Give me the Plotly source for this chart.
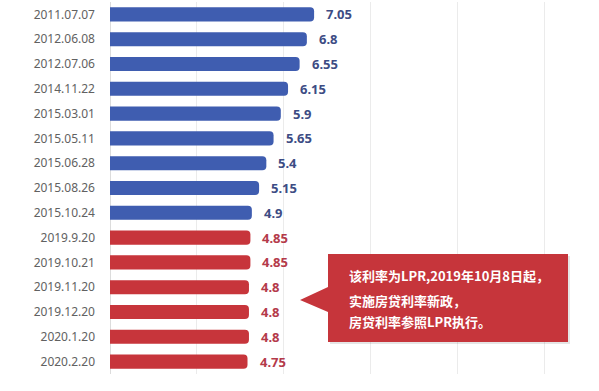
import plotly.graph_objects as go

dates = ["2011.07.07", "2012.06.08", "2012.07.06", "2014.11.22", "2015.03.01",
         "2015.05.11", "2015.06.28", "2015.08.26", "2015.10.24", "2019.9.20",
         "2019.10.21", "2019.11.20", "2019.12.20", "2020.1.20", "2020.2.20"]
rates = [7.05, 6.8, 6.55, 6.15, 5.9, 5.65, 5.4, 5.15, 4.9, 4.85, 4.85, 4.8, 4.8, 4.8, 4.75]
is_lpr = [False] * 9 + [True] * 6
note_lines = ["该利率为LPR,2019年10月8日起，", "实施房贷利率新政，", "房贷利率参照LPR执行。"]

BLUE, RED = "#3f5db0", "#c7353b"
BLUE_TXT, RED_TXT = "#3d4c84", "#b43a4a"

W, H = 599, 391
ML, MR, MT, MB = 110, 0, 2, 17
PW, PH = W - ML - MR, H - MT - MB

def px(x):
    return (x - ML) / PW

def py(y):
    return 1 - (y - MT) / PH

fig = go.Figure()
fig.add_trace(go.Bar(
    y=dates, x=rates, orientation="h",
    marker=dict(color=[RED if f else BLUE for f in is_lpr], line=dict(width=0)),
    width=0.57, hoverinfo="skip",
))

for d, r, f in zip(dates, rates, is_lpr):
    fig.add_annotation(x=r, y=d, xref="x", yref="y", text=f"<b>{r:g}</b>",
                       showarrow=False, xanchor="left", xshift=10,
                       font=dict(size=13, color=RED_TXT if f else BLUE_TXT,
                                 family="Noto Sans, Open Sans, sans-serif"))

# callout box
path = (f"M {px(328)},{py(254)} L {px(568)},{py(254)} L {px(568)},{py(342)} "
        f"L {px(328)},{py(342)} L {px(328)},{py(312)} L {px(300)},{py(300)} "
        f"L {px(328)},{py(287)} Z")
shadow = (f"M {px(330)},{py(256)} L {px(570)},{py(256)} L {px(570)},{py(344)} "
          f"L {px(330)},{py(344)} Z")
fig.add_shape(type="path", path=shadow, xref="paper", yref="paper",
              fillcolor="rgba(0,0,0,0.10)", line=dict(width=0), layer="above")
fig.add_shape(type="path", path=path, xref="paper", yref="paper",
              fillcolor="#c6353b", line=dict(width=0), layer="above")
for line, yy in zip(note_lines, [275.5, 300.5, 321]):
    fig.add_annotation(x=px(347), y=py(yy), xref="paper", yref="paper",
                       text=f"<b>{line}</b>", showarrow=False,
                       xanchor="left", yanchor="middle",
                       font=dict(size=13, color="white",
                                 family="Noto Sans CJK SC, sans-serif"))

fig.update_layout(
    width=W, height=H,
    margin=dict(l=ML, r=MR, t=MT, b=MB),
    paper_bgcolor="white", plot_bgcolor="white",
    showlegend=False,
    barcornerradius=4,
    xaxis=dict(range=[0, PW / 28.95], dtick=3, showticklabels=False,
               showgrid=True, gridcolor="#ebebeb", gridwidth=1,
               zeroline=True, zerolinecolor="#dcdcdc", zerolinewidth=1,
               fixedrange=True),
    yaxis=dict(autorange="reversed", showgrid=False, showline=False,
               ticks="", ticklabelstandoff=14,
               tickfont=dict(size=12, color="#616161",
                             family="Noto Sans, Open Sans, sans-serif"),
               fixedrange=True),
)

fig.write_html("out.html")
